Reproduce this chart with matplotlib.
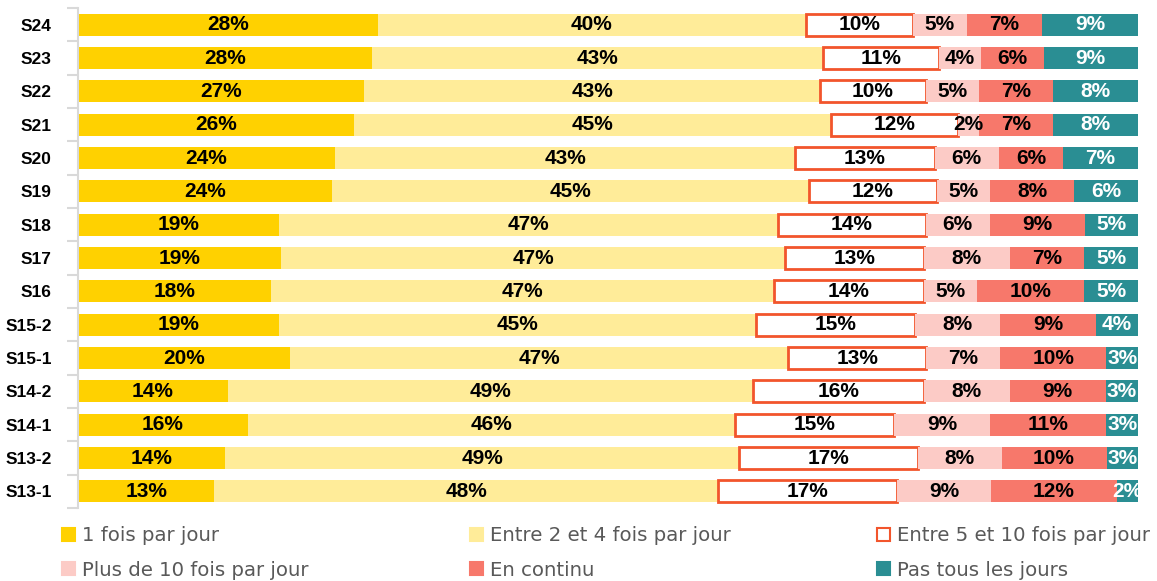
import matplotlib
matplotlib.use("Agg")
import matplotlib.pyplot as plt
from matplotlib import font_manager as fm
from matplotlib.patches import Patch
import numpy as np

# waves, top to bottom
WAVES = ["S24", "S23", "S22", "S21", "S20", "S19", "S18", "S17", "S16",
         "S15-2", "S15-1", "S14-2", "S14-1", "S13-2", "S13-1"]

UNE_FOIS = [28, 28, 27, 26, 24, 24, 19, 19, 18, 19, 20, 14, 16, 14, 13]
ENTRE_2_4 = [40, 43, 43, 45, 43, 45, 47, 47, 47, 45, 47, 49, 46, 49, 48]
ENTRE_5_10 = [10, 11, 10, 12, 13, 12, 14, 13, 14, 15, 13, 16, 15, 17, 17]
PLUS_10 = [5, 4, 5, 2, 6, 5, 6, 8, 5, 8, 7, 8, 9, 8, 9]
EN_CONTINU = [7, 6, 7, 7, 6, 8, 9, 7, 10, 9, 10, 9, 11, 10, 12]
PAS_TOUS = [9, 9, 8, 8, 7, 6, 5, 5, 5, 4, 3, 3, 3, 3, 2]

SERIES = [
    ("1 fois par jour", UNE_FOIS),
    ("Entre 2 et 4 fois par jour", ENTRE_2_4),
    ("Entre 5 et 10 fois par jour", ENTRE_5_10),
    ("Plus de 10 fois par jour", PLUS_10),
    ("En continu", EN_CONTINU),
    ("Pas tous les jours", PAS_TOUS),
]

FACES = ["#FFD100", "#FFEC99", "#FFFFFF", "#FCCBC6", "#F7786B", "#2A8E93"]
EDGES = ["none", "none", "#F2552C", "none", "none", "none"]
TEXTS = ["black", "black", "black", "black", "black", "white"]

names = {f.name for f in fm.fontManager.ttflist}
label_family = "Liberation Sans" if "Liberation Sans" in names else "DejaVu Sans"

fig = plt.figure(figsize=(11.57, 5.81), dpi=100)
ax = fig.add_axes([78 / 1157, 1 - 508 / 581, (1138 - 78) / 1157, 500 / 581])

y = np.arange(len(WAVES))
totals = np.sum([s for _, s in SERIES], axis=0)
left = np.zeros(len(WAVES))
handles = []
for (name, vals), fc, ec, tc in zip(SERIES, FACES, EDGES, TEXTS):
    vals = np.array(vals, dtype=float)
    width = vals / totals * 100
    bars = ax.barh(y, width, left=left, height=0.66, color=fc,
                   edgecolor=ec, linewidth=2 if ec != "none" else 0)
    ax.bar_label(bars, labels=[f"{int(v)}%" for v in vals], label_type="center",
                 color=tc, fontsize=15, family=label_family, weight="bold")
    left += width
    handles.append(Patch(facecolor=fc, edgecolor=ec if ec != "none" else fc,
                         linewidth=1.5, label=name))

ax.set_xlim(0, 100)
ax.set_ylim(len(WAVES) - 0.5, -0.5)
ax.set_yticks(y)
ax.set_yticklabels(WAVES, fontsize=12.5, family=label_family, weight="bold")
ax.set_yticks(np.arange(len(WAVES) + 1) - 0.5, minor=True)
ax.tick_params(axis="y", which="major", length=0, pad=19)
ax.tick_params(axis="y", which="minor", length=8, color="#D9D9D9", width=1.5)
ax.set_xticks([])
for s in ["top", "right", "bottom"]:
    ax.spines[s].set_visible(False)
ax.spines["left"].set_color("#D9D9D9")
ax.spines["left"].set_linewidth(1.5)

# one legend per column so the columns sit where they do in the original
cols = [(62, [0, 3]), (470, [1, 4]), (877, [2, 5])]
for x0, idx in cols:
    leg = fig.legend(handles=[handles[i] for i in idx], loc="upper left",
                     bbox_to_anchor=(x0 / 1157, 1 - 526 / 581), frameon=False,
                     ncol=1, handlelength=0.64, handleheight=0.64,
                     handletextpad=0.35, labelspacing=0.8, borderpad=0,
                     borderaxespad=0,
                     prop=dict(family="DejaVu Sans", size=14.2))
    for t in leg.get_texts():
        t.set_color("#595959")

fig.savefig("out.png", dpi=100)
